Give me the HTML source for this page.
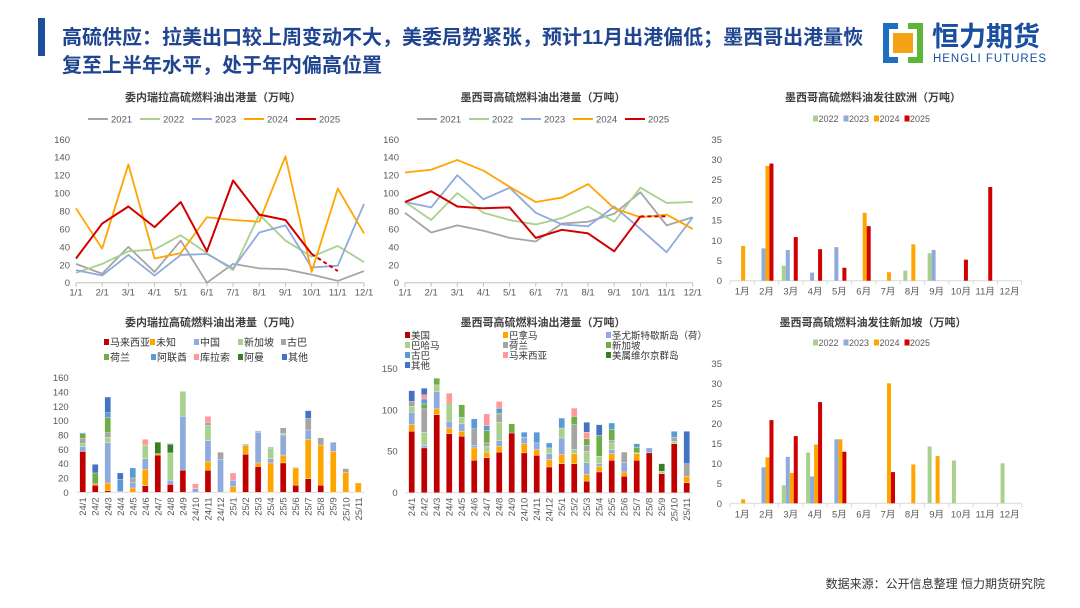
<!DOCTYPE html>
<html><head><meta charset="utf-8">
<style>
html,body{margin:0;padding:0;background:#fff;}
#root{position:relative;width:1080px;height:608px;overflow:hidden;font-family:"Liberation Sans","Noto Sans CJK SC",sans-serif;}
svg text{font-family:"Liberation Sans","Noto Sans CJK SC",sans-serif;}
</style></head>
<body>
<div id="root">
<svg id="s" width="1080" height="608" viewBox="0 0 1080 608" xmlns="http://www.w3.org/2000/svg">
  <rect x="38" y="18" width="7" height="38" fill="#1F4E9A"/>
  <text x="62" y="44" font-size="20" font-weight="bold" fill="#1F4590">高硫供应：拉美出口较上周变动不大，美委局势紧张，预计11月出港偏低；墨西哥出港量恢</text>
  <text x="62" y="72" font-size="20" font-weight="bold" fill="#1F4590">复至上半年水平，处于年内偏高位置</text>
  <g>
    <path d="M883 23 H898 V29 H889 V57 H898 V63 H883 Z" fill="#1F6FC0"/>
    <path d="M923 23 H908 V29 H917 V57 H908 V63 H923 Z" fill="#5DB53A"/>
    <rect x="893" y="33" width="20" height="20" fill="#F5A316"/>
    <text x="932" y="46" font-size="27" font-weight="bold" fill="#1A4FA0">恒力期货</text>
    <text x="933" y="62" font-size="11.5" fill="#1A4FA0" textLength="113">HENGLI FUTURES</text>
  </g>
  <text x="1045" y="588" font-size="12" text-anchor="end" fill="#333">数据来源：公开信息整理  恒力期货研究院</text>
</svg>
</div>
<script>
// ---------- data ----------
const monthLineCats = ['1/1','2/1','3/1','4/1','5/1','6/1','7/1','8/1','9/1','10/1','11/1','12/1'];
const lineYears = ['2021','2022','2023','2024','2025'];
const vzl2021 = [21,10,40,12,47,0,21,16,15,9,2,13];
const vzl2022 = [11,21,35,37,53,33,14,76,47,29,41,23];
const vzl2023 = [14,8,31,8,31,32,16,56,64,17,19,88];
const vzl2024 = [83,38,132,27,33,73,70,68,141,12,105,55];
const vzl2025 = [27,66,85,62,90,35,114,76,70,32,13,null];
const mex2021 = [78,56,64,58,50,46,66,68,77,101,64,73];
const mex2022 = [90,70,100,78,70,65,72,85,68,106,89,90];
const mex2023 = [90,84,120,93,106,78,65,63,85,60,34,73];
const mex2024 = [123,126,137,125,107,90,95,110,83,73,76,60];
const mex2025 = [90,102,85,83,84,50,59,55,35,74,74,null];
const lineTicks = [0,20,40,60,80,100,120,140,160];

const monthBarCats = ['1月','2月','3月','4月','5月','6月','7月','8月','9月','10月','11月','12月'];
const barYears = ['2022','2023','2024','2025'];
const eur2022 = [0,0,3.7,0,0,0,0,2.5,6.8,0,0,0];
const eur2023 = [0,8,7.6,2,8.3,0,0,0,7.6,0,0,0];
const eur2024 = [8.6,28.4,0,0,0,16.8,2.1,9,0,0,0,0];
const eur2025 = [0,29,10.8,7.8,3.2,13.5,0,0,0,5.2,23.2,0];
const sgp2022 = [0,0,4.5,12.7,0,0,0,0,14.2,10.7,0,10];
const sgp2023 = [0,9,11.6,6.7,16,0,0,0,0,0,0,0];
const sgp2024 = [1,11.5,7.6,14.7,16,0,30,9.7,11.8,0,0,0];
const sgp2025 = [0,20.8,16.8,25.3,12.9,0,7.8,0,0,0,0,0];
const barTicks = [0,5,10,15,20,25,30,35];

const stackCats = ['24/1','24/2','24/3','24/4','24/5','24/6','24/7','24/8','24/9','24/10','24/11','24/12','25/1','25/2','25/3','25/4','25/5','25/6','25/7','25/8','25/9','25/10','25/11'];
const vDestNames = ['马来西亚','未知','中国','新加坡','古巴','荷兰','阿联酋','库拉索','阿曼','其他'];
const vMalaysia = [57,10,2,0,0,9,52,11,31,0,31,0,0,53,36,0,41,10,19,10,0,0,0];
const vUnknown  = [0,2,11,0,6,23,2,0,0,0,12,0,8,12,5,41,11,24,55,56,57,28,13];
const vChina    = [7,0,56,1,8,15,0,6,75,5,29,46,9,0,43,6,28,0,13,0,13,0,0];
const vSingapore= [4,0,8,0,0,19,0,38,35,0,21,0,0,0,2,14,2,0,0,0,0,0,0];
const vCuba     = [7,0,6,0,6,0,0,0,0,0,4,10,0,2,0,2,8,1,16,10,0,5,0];
const vNeth     = [7,15,21,0,0,0,0,0,0,0,0,0,0,0,0,0,0,0,0,0,0,0,0];
const vUAE      = [0,0,7,17,14,0,0,0,0,0,0,0,0,0,0,0,0,0,0,0,0,0,0];
const vCuracao  = [0,0,0,0,0,8,0,0,0,7,9,0,10,0,0,0,0,0,0,0,0,0,0];
const vOman     = [0,0,0,0,0,0,16,12,0,0,0,0,0,0,0,0,0,0,0,0,0,0,0];
const vOther    = [1,12,22,9,0,0,0,1,0,0,0,0,0,0,0,0,0,0,11,0,0,0,0];
const vTicks = [0,20,40,60,80,100,120,140,160];

const mDestNames = ['美国','巴拿马','圣尤斯特歇斯岛（荷）','巴哈马','荷兰','新加坡','古巴','马来西亚','美属维尔京群岛','其他'];
const mUSA      = [74,54,94,71,68,39,42,49,72,48,45,31,35,35,14,25,39,20,39,48,23,59,12];
const mPanama   = [8,0,7,7,6,15,7,7,0,11,7,9,11,12,8,7,8,5,8,0,0,0,8];
const mStEust   = [15,3,21,8,9,3,0,7,0,8,8,7,20,0,14,3,5,11,0,6,0,0,0];
const mBahamas  = [7,16,8,20,8,0,7,22,0,0,0,7,12,5,14,9,8,0,1,0,3,3,0];
const mNeth     = [6,28,0,0,0,20,4,9,0,0,0,0,0,30,7,0,3,13,0,0,0,5,15];
const mSingapore= [0,6,8,2,15,0,15,2,11,0,0,0,0,10,8,25,13,0,7,0,0,0,0];
const mCuba     = [0,6,0,0,0,12,6,6,0,6,13,6,12,0,0,0,8,0,4,0,0,7,0];
const mMalaysia = [0,5,0,12,0,0,14,8,0,0,0,0,0,10,8,0,0,0,0,0,0,0,0];
const mUSVI     = [0,0,0,0,0,0,0,0,0,0,0,0,0,0,0,0,0,0,0,0,9,0,0];
const mOther    = [13,8,0,0,0,0,0,0,0,0,0,0,0,0,12,13,0,0,0,0,0,0,39];
const mTicks = [0,50,100,150];

// ---------- drawing ----------
const NS = 'http://www.w3.org/2000/svg';
const svg = document.getElementById('s');
function mk(parent, tag, attrs, name, text) {
  const el = document.createElementNS(NS, tag);
  for (const k in attrs) el.setAttribute(k, attrs[k]);
  
  
  if (text !== undefined) el.textContent = text;
  parent.appendChild(el);
  return el;
}
const yearColors = {'2021':'#A5A5A5','2022':'#A9D18E','2023':'#8FAADC','2024':'#FFA500','2025':'#D00000'};
const TXT = '#595959';

function title(x, y, t, name) {
  mk(svg, 'text', {x:x, y:y, 'font-size':11, 'font-weight':'bold', 'text-anchor':'middle', fill:'#404040'}, name, t);
}
function yAxisLabels(g, ticks, max, yBase, yTop, xr) {
  ticks.forEach(t => {
    const y = yBase - (t / max) * (yBase - yTop);
    mk(g, 'text', {x:xr, y:y+3.5, 'font-size':9.5, 'text-anchor':'end', fill:TXT}, 'y-tick-label', String(t));
  });
}

function lineChart(cfg) {
  const g = mk(svg, 'g', {}, cfg.name);
  const n = cfg.cats.length;
  const xs = i => cfg.x0 + i * (cfg.x1 - cfg.x0) / (n - 1);
  const max = cfg.ticks[cfg.ticks.length - 1];
  const ys = v => cfg.yBase - (v / max) * (cfg.yBase - cfg.yTop);
  yAxisLabels(g, cfg.ticks, max, cfg.yBase, cfg.yTop, cfg.x0 - 6);
  mk(g, 'line', {x1:cfg.x0, y1:cfg.yBase, x2:cfg.x1, y2:cfg.yBase, stroke:'#BFBFBF', 'stroke-width':1}, 'x-axis-line');
  cfg.cats.forEach((c, i) => {
    mk(g, 'line', {x1:xs(i), y1:cfg.yBase, x2:xs(i), y2:cfg.yBase+4, stroke:'#BFBFBF'}, 'x-tick');
    mk(g, 'text', {x:xs(i), y:cfg.yBase+13, 'font-size':9.5, 'text-anchor':'middle', fill:TXT}, 'x-tick-label', c);
  });
  cfg.series.forEach((vals, si) => {
    const yr = lineYears[si];
    const col = yearColors[yr];
    const isLast = si === cfg.series.length - 1;
    let pts = [];
    vals.forEach((v, i) => { if (v !== null) pts.push([xs(i), ys(v)]); });
    if (isLast) {
      const solid = pts.slice(0, pts.length - 1);
      const dash = pts.slice(pts.length - 2);
      mk(g, 'polyline', {points:solid.map(p=>p.join(',')).join(' '), fill:'none', stroke:col, 'stroke-width':2, 'stroke-linejoin':'round'}, 'line-' + yr);
      mk(g, 'polyline', {points:dash.map(p=>p.join(',')).join(' '), fill:'none', stroke:col, 'stroke-width':2, 'stroke-dasharray':'4,3'}, 'line-' + yr + '-forecast');
    } else {
      mk(g, 'polyline', {points:pts.map(p=>p.join(',')).join(' '), fill:'none', stroke:col, 'stroke-width':1.8, 'stroke-linejoin':'round'}, 'line-' + yr);
    }
    const lx = cfg.legX + si * 52;
    const lg = mk(g, 'g', {}, 'legend-entry-' + yr);
    mk(lg, 'line', {x1:lx, y1:cfg.legY, x2:lx+20, y2:cfg.legY, stroke:col, 'stroke-width':2}, 'legend-swatch');
    mk(lg, 'text', {x:lx+23, y:cfg.legY+3.5, 'font-size':9.5, fill:TXT}, 'legend-label', yr);
  });
}

function groupedBar(cfg) {
  const g = mk(svg, 'g', {}, cfg.name);
  const n = cfg.cats.length;
  const step = (cfg.x1 - cfg.x0) / n;
  const max = cfg.ticks[cfg.ticks.length - 1];
  const ys = v => cfg.yBase - (v / max) * (cfg.yBase - cfg.yTop);
  yAxisLabels(g, cfg.ticks, max, cfg.yBase, cfg.yTop, cfg.x0 - 8);
  mk(g, 'line', {x1:cfg.x0, y1:cfg.yBase, x2:cfg.x1, y2:cfg.yBase, stroke:'#D9D9D9'}, 'x-axis-line');
  const offs = [-9, -5, -1, 3];
  cfg.cats.forEach((c, i) => {
    const cx = cfg.x0 + step * (i + 0.5);
    mk(g, 'line', {x1:cfg.x0+step*i, y1:cfg.yBase, x2:cfg.x0+step*i, y2:cfg.yBase+4, stroke:'#D9D9D9'}, 'x-tick');
    mk(g, 'text', {x:cx, y:cfg.yBase+14, 'font-size':9.5, 'text-anchor':'middle', fill:TXT}, 'x-tick-label', c);
    cfg.series.forEach((vals, si) => {
      const v = vals[i];
      if (!v) return;
      mk(g, 'rect', {x:cx+offs[si], y:ys(v), width:4, height:cfg.yBase-ys(v), fill:yearColors[barYears[si]]}, 'bar-' + barYears[si] + '-' + c);
    });
  });
  mk(g, 'line', {x1:cfg.x1, y1:cfg.yBase, x2:cfg.x1, y2:cfg.yBase+4, stroke:'#D9D9D9'}, 'x-tick');
  barYears.forEach((yr, si) => {
    const lx = cfg.legX + si * 30.5;
    const lg = mk(g, 'g', {}, 'legend-entry-' + yr);
    mk(lg, 'rect', {x:lx, y:cfg.legY-3.5, width:5, height:6, fill:yearColors[yr]}, 'legend-swatch');
    mk(lg, 'text', {x:lx+5.5, y:cfg.legY+3, 'font-size':9, fill:TXT}, 'legend-label', yr);
  });
}

function stackedBar(cfg) {
  const g = mk(svg, 'g', {}, cfg.name);
  const n = cfg.cats.length;
  const step = (cfg.xl - cfg.xf) / (n - 1);
  const max = cfg.ticks[cfg.ticks.length - 1];
  const ys = v => cfg.yBase - (v / max) * (cfg.yBase - cfg.yTop);
  yAxisLabels(g, cfg.ticks, max, cfg.yBase, cfg.yTop, cfg.xf - 14);
  mk(g, 'line', {x1:cfg.xf - step/2, y1:cfg.yBase, x2:cfg.xl + step/2, y2:cfg.yBase, stroke:'#D9D9D9'}, 'x-axis-line');
  cfg.cats.forEach((c, i) => {
    const cx = cfg.xf + step * i;
    mk(g, 'text', {x:0, y:0, 'font-size':9.5, 'text-anchor':'end', fill:TXT, transform:'translate(' + (cx+3.5) + ',' + (cfg.yBase+5) + ') rotate(-90)'}, 'x-tick-label', c);
    let acc = 0;
    cfg.series.forEach((vals, si) => {
      const v = vals[i];
      if (!v) return;
      mk(g, 'rect', {x:cx-3, y:ys(acc+v), width:6, height:ys(acc)-ys(acc+v), fill:cfg.colors[si], stroke:'#fff', 'stroke-width':0.3}, 'bar-segment-' + cfg.names[si] + '-' + c);
      acc += v;
    });
  });
  cfg.names.forEach((nm, si) => {
    const pos = cfg.legPos[si];
    const lg = mk(g, 'g', {}, 'legend-entry-' + nm);
    mk(lg, 'rect', {x:pos[0], y:pos[1]-4, width:5, height:6, fill:cfg.colors[si]}, 'legend-swatch');
    mk(lg, 'text', {x:pos[0]+6, y:pos[1]+3, 'font-size':cfg.legFont, fill:'#333'}, 'legend-label', nm);
  });
}

const stackColors = ['#C00000','#FFA500','#8FAADC','#A9D18E','#A5A5A5','#70AD47','#5B9BD5','#FF9999','#3B7D23','#4472C4'];
const mStackColors = ['#C00000','#FFA500','#8FAADC','#A9D18E','#A5A5A5','#70AD47','#5B9BD5','#FF9999','#3B7D23','#4472C4'];

title(213, 101, '委内瑞拉高硫燃料油出港量（万吨）', 'chart1-title');
lineChart({name:'chart-venezuela-exports', cats:monthLineCats, series:[vzl2021,vzl2022,vzl2023,vzl2024,vzl2025], ticks:lineTicks, x0:76, x1:364, yBase:282.7, yTop:139.3, legX:88, legY:119});

title(543, 101, '墨西哥高硫燃料油出港量（万吨）', 'chart2-title');
lineChart({name:'chart-mexico-exports', cats:monthLineCats, series:[mex2021,mex2022,mex2023,mex2024,mex2025], ticks:lineTicks, x0:405, x1:692.7, yBase:282.7, yTop:139.3, legX:417, legY:119});

title(873, 101, '墨西哥高硫燃料油发往欧洲（万吨）', 'chart3-title');
groupedBar({name:'chart-mexico-to-europe', cats:monthBarCats, series:[eur2022,eur2023,eur2024,eur2025], ticks:barTicks, x0:730, x1:1021.7, yBase:280.7, yTop:139.3, legX:813, legY:119});

title(213, 326, '委内瑞拉高硫燃料油出港量（万吨）', 'chart4-title');
stackedBar({name:'chart-venezuela-by-destination', cats:stackCats, series:[vMalaysia,vUnknown,vChina,vSingapore,vCuba,vNeth,vUAE,vCuracao,vOman,vOther], names:vDestNames, colors:stackColors, ticks:vTicks, xf:82.7, xl:358.3, yBase:492.3, yTop:377.7, legFont:10,
  legPos:[[104,343],[150,343],[194,343],[238,343],[281,343],[104,358],[151,358],[194,358],[238,358],[282,358]]});

title(543, 326, '墨西哥高硫燃料油出港量（万吨）', 'chart5-title');
stackedBar({name:'chart-mexico-by-destination', cats:stackCats, series:[mUSA,mPanama,mStEust,mBahamas,mNeth,mSingapore,mCuba,mMalaysia,mUSVI,mOther], names:mDestNames, colors:mStackColors, ticks:mTicks, xf:411.7, xl:686.7, yBase:492.7, yTop:368.3, legFont:9.5,
  legPos:[[405,336],[503,336],[606,336],[405,346],[503,346],[606,346],[405,356],[503,356],[606,356],[405,366]]});

title(873, 326, '墨西哥高硫燃料油发往新加坡（万吨）', 'chart6-title');
groupedBar({name:'chart-mexico-to-singapore', cats:monthBarCats, series:[sgp2022,sgp2023,sgp2024,sgp2025], ticks:barTicks, x0:730, x1:1021.7, yBase:503.3, yTop:363.3, legX:813, legY:343});
</script>
</body></html>
